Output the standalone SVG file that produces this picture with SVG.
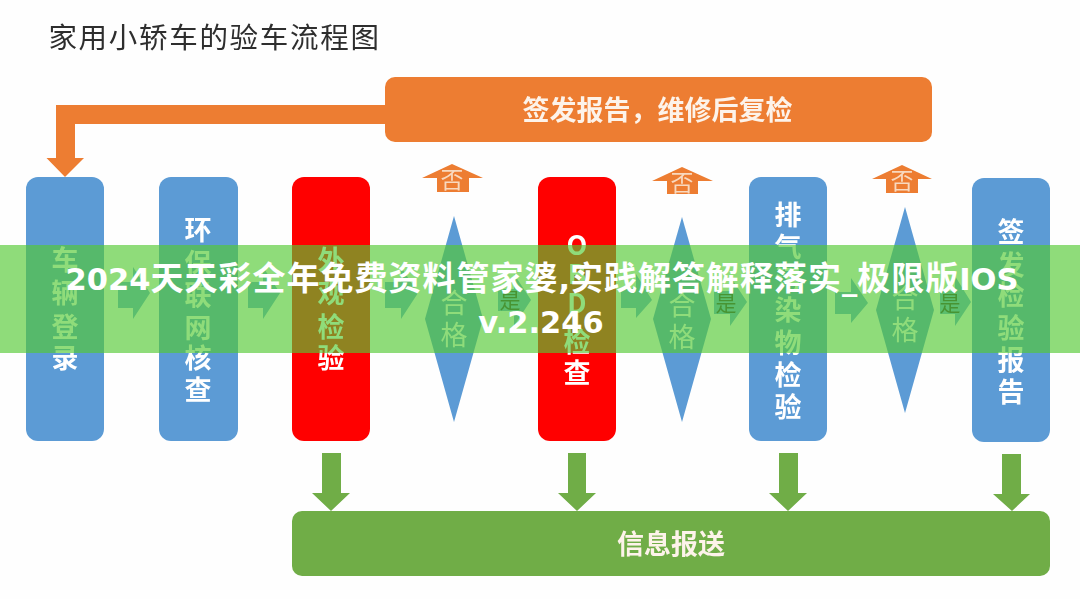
<svg xmlns="http://www.w3.org/2000/svg" width="1080" height="599" viewBox="0 0 1080 599">
<defs>
<filter id="soft" x="0" y="0" width="1080" height="599" filterUnits="userSpaceOnUse"><feGaussianBlur stdDeviation="0.6"/></filter>
</defs>
<style>
text{font-family:"Noto Sans CJK SC","Noto Sans",sans-serif;text-anchor:middle}
.blue{fill:#5b9bd5}.red{fill:#ff0000}.orange{fill:#ed7d31}.green{fill:#70ad47}.flow{fill:#6aa8dc}
.n{fill:#fff;font-size:27px;font-weight:700}
.m{fill:#fff;font-size:27px;font-weight:400}
.no{fill:#f8d9bf;font-size:23px;font-weight:400}
.yes{fill:#333;font-size:21px;font-weight:400}
.bar{fill:#fdf3ea;font-size:27px;font-weight:700}
.band{fill:#fff;font-family:"Noto Sans CJK SC",sans-serif;font-size:33px;font-weight:700;letter-spacing:1px}
.lat{font-family:"DejaVu Sans",sans-serif;font-size:30.5px;letter-spacing:0}
</style>
<rect width="1080" height="599" fill="#fefefe"/>
<g filter="url(#soft)">
<text id="title" x="214.500" y="48" fill="#2f2f2f" font-size="28.5" letter-spacing="1.7">家用小轿车的验车流程图</text>
<g id="connectors">
<path class="orange" d="M390 105H56V158H46.500L65 177L84 158H75V124H390Z"/>
<path class="orange" d="M452 164L483 178H469V192H437V178H422Z"/>
<path class="orange" d="M682 167L713 181H698V194H667V181H652Z"/>
<path class="orange" d="M902 165L932 179H918V193H886V179H872Z"/>
<g class="flow">
<path d="M118 282H133V267L150 293L133 319V308H118Z"/>
<path d="M248 282H263V267L280 293L263 319V308H248Z"/>
<path d="M385 282H401V267L418 293L401 319V308H385Z"/>
<path d="M498 289H514V274L531 300L514 326V311H498Z"/>
<path d="M621 288H636V274L652 300L636 318V308H621Z"/>
<path d="M714 291H730V276L747 302L730 326V314H714Z"/>
<path d="M835 292H851V278L868 303L851 323V314H835Z"/>
<path d="M940 291H955V276L971 302L955 326V314H940Z"/>
</g>
<g class="green">
<path d="M322 453H341V493H350L331 511L312 493H322Z"/>
<path d="M568 453H586V493H596L577 511L558 493H568Z"/>
<path d="M779 453H798V493H807L788 511L769 493H779Z"/>
<path d="M1002 454H1021V494H1030L1012 511L993 494H1002Z"/>
</g>
<text class="yes" x="510" y="308">是</text>
<text class="yes" x="726" y="311">是</text>
<text class="yes" x="950" y="311">是</text>
</g>
<g id="node-report">
<rect class="orange" x="385" y="77" width="547" height="65" rx="10"/>
<text class="bar" x="657.500" y="120">签发报告，维修后复检</text>
</g>
<g id="node-login">
<rect class="blue" x="26" y="177" width="78" height="264" rx="12"/>
<text class="n"><tspan x="65" y="270">车</tspan><tspan x="65" y="303">辆</tspan><tspan x="65" y="337">登</tspan><tspan x="65" y="368">录</tspan></text>
</g>
<g id="node-env">
<rect class="blue" x="159" y="177" width="79" height="264" rx="12"/>
<text class="n"><tspan x="198" y="240">环</tspan><tspan x="198" y="273">保</tspan><tspan x="198" y="305">联</tspan><tspan x="198" y="338">网</tspan><tspan x="198" y="368">核</tspan><tspan x="198" y="400">查</tspan></text>
</g>
<g id="node-visual">
<rect class="red" x="292" y="177" width="78" height="264" rx="12"/>
<text class="n"><tspan x="331" y="270">外</tspan><tspan x="331" y="303">观</tspan><tspan x="331" y="337">检</tspan><tspan x="331" y="368">验</tspan></text>
</g>
<g id="node-pass1">
<path class="blue" d="M454 216L483 319L454 422L425 319Z"/>
<text class="m"><tspan x="454" y="313">合</tspan><tspan x="454" y="345">格</tspan></text>
</g>
<g id="node-obd">
<rect class="red" x="538" y="177" width="78" height="264" rx="12"/>
<text class="n"><tspan x="577" y="255">O</tspan><tspan x="577" y="284">B</tspan><tspan x="577" y="313">D</tspan><tspan x="577" y="352">检</tspan><tspan x="577" y="383">查</tspan></text>
</g>
<g id="node-pass2">
<path class="blue" d="M682 217L711 319L682 422L653 319Z"/>
<text class="m"><tspan x="682" y="315">合</tspan><tspan x="682" y="347">格</tspan></text>
</g>
<g id="node-emission">
<rect class="blue" x="749" y="177" width="78" height="264" rx="12"/>
<text class="n"><tspan x="788" y="225">排</tspan><tspan x="788" y="257">气</tspan><tspan x="788" y="290">污</tspan><tspan x="788" y="320">染</tspan><tspan x="788" y="353">物</tspan><tspan x="788" y="385">检</tspan><tspan x="788" y="417">验</tspan></text>
</g>
<g id="node-pass3">
<path class="blue" d="M905 207L934 310L905 413L876 310Z"/>
<text class="m"><tspan x="905" y="308">合</tspan><tspan x="905" y="340">格</tspan></text>
</g>
<g id="node-sign">
<rect class="blue" x="972" y="178" width="78" height="264" rx="12"/>
<text class="n"><tspan x="1011" y="242">签</tspan><tspan x="1011" y="275">发</tspan><tspan x="1011" y="305">检</tspan><tspan x="1011" y="338">验</tspan><tspan x="1011" y="370">报</tspan><tspan x="1011" y="402">告</tspan></text>
</g>
<g id="node-info">
<rect class="green" x="292" y="511" width="758" height="65" rx="10"/>
<text class="bar" x="671" y="554">信息报送</text>
</g>
<text class="no" x="452" y="188">否</text>
<text class="no" x="682" y="191">否</text>
<text class="no" x="902" y="189">否</text>
</g>
<rect id="banner" x="0" y="245" width="1080" height="108" fill="#53c932" fill-opacity="0.65"/>
<text class="band" x="542" y="290"><tspan class="lat">2024</tspan>天天彩全年免费资料管家婆<tspan class="lat">,</tspan>实践解答解释落实<tspan class="lat">_</tspan>极限版<tspan class="lat">IOS</tspan></text>
<text class="band lat" x="541" y="333">v.2.246</text>
</svg>
